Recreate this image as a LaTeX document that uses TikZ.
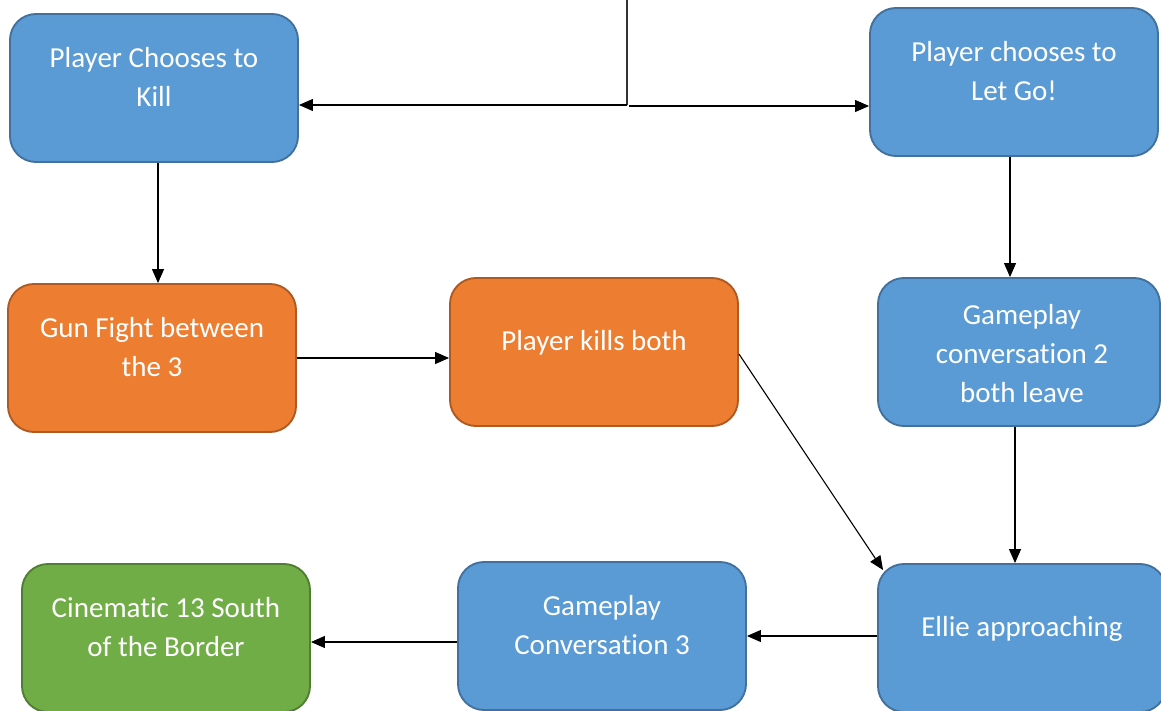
\documentclass[tikz,border=0pt]{standalone}
\usepackage{fontspec}
\setmainfont{Carlito}[Ligatures=NoCommon]
\usetikzlibrary{arrows.meta}
\definecolor{bfill}{HTML}{5B9BD5}
\definecolor{bdraw}{HTML}{41719C}
\definecolor{ofill}{HTML}{ED7D31}
\definecolor{odraw}{HTML}{AE5A21}
\definecolor{gfill}{HTML}{70AD47}
\definecolor{gdraw}{HTML}{507E32}
\tikzset{
  boxbase/.style={rectangle, rounded corners=26pt, line width=1.9pt, inner sep=0pt},
  bluebox/.style={boxbase, fill=bfill, draw=bdraw},
  orangebox/.style={boxbase, fill=ofill, draw=odraw},
  greenbox/.style={boxbase, fill=gfill, draw=gdraw},
  lbl/.style={text=white, align=center, font=\fontsize{29}{39}\selectfont, inner sep=0pt},
  conn/.style={draw=black, line width=1.1pt, -{Triangle[length=14pt,width=12pt]}},
  plain/.style={draw=black!80, line width=1.3pt}
}
\begin{document}
\begin{tikzpicture}[x=1pt,y=-1pt]
\useasboundingbox (0,0) rectangle (1161,711);
% boxes
\node[bluebox, minimum width=288pt, minimum height=148pt] (b1) at (154,88) {};
\node[bluebox, minimum width=288pt, minimum height=148pt] (b2) at (1014,82) {};
\node[orangebox, minimum width=288pt, minimum height=148pt] (b3) at (152,358) {};
\node[orangebox, minimum width=288pt, minimum height=148pt] (b4) at (594,352) {};
\node[bluebox, minimum width=282pt, minimum height=148pt] (b5) at (1019,352) {};
\node[bluebox, minimum width=288pt, minimum height=148pt] (b6) at (1022,638) {};
\node[bluebox, minimum width=288pt, minimum height=148pt] (b7) at (602,636) {};
\node[greenbox, minimum width=288pt, minimum height=148pt] (b8) at (166,638) {};
% labels
\node[lbl] (t1) at (154,77) {Player Chooses to\\Kill};
\node[lbl] (t2) at (1014,71) {Player chooses to\\Let Go!};
\node[lbl] (t3) at (152,347) {Gun Fight between\\the 3};
\node[lbl] (t4) at (594,343) {Player kills both};
\node[lbl] (t5) at (1022,354) {Gameplay\\conversation 2\\both leave};
\node[lbl] (t6) at (1022,629) {Ellie approaching};
\node[lbl] (t7) at (602,625) {Gameplay\\Conversation 3};
\node[lbl] (t8) at (166,627) {Cinematic 13 South\\of the Border};
% connectors
\coordinate (top) at (627,0);
\coordinate (split) at (627,105);
\coordinate (splitr) at (629,106);
\draw[plain] (top) -- (split);
\draw[conn] (split) -- (b1.east |- split);
\draw[conn] (splitr) -- (b2.west |- splitr);
\draw[conn] (b1.south -| 158,0) -- (b3.north -| 158,0);
\draw[conn] (b2.south -| 1010,0) -- (b5.north -| 1010,0);
\draw[conn] (b3.east) -- (b4.west |- b3.east);
\draw[conn] ([yshift=-2pt]b4.east) -- ([shift={(6,7)}]b6.north west);
\draw[conn] (b5.south -| 1015,0) -- (b6.north -| 1015,0);
\draw[conn] (b6.west |- 0,636) -- (b7.east |- 0,636);
\draw[conn] (b7.west |- 0,642) -- (b8.east |- 0,642);
\end{tikzpicture}
\end{document}
